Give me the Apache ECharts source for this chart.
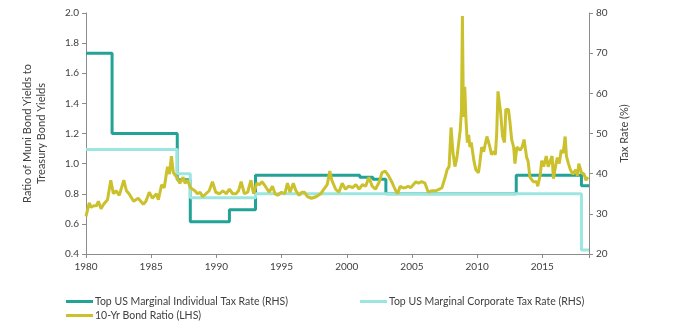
<!DOCTYPE html>
<html>
<head>
<meta charset="utf-8">
<script src="https://cdn.jsdelivr.net/npm/echarts@6/dist/echarts.min.js"></script>
<style>html,body{margin:0;padding:0;background:#fff;}#c{width:679px;height:329px;}</style>
</head>
<body>
<div id="c"></div>
<script>
// Top US marginal individual tax rate (%), change points
var indivYears = [1980, 1982, 1987, 1988, 1991, 1993, 2001, 2002, 2003, 2013, 2018, 2018.58];
var indivRates = [70, 50, 38.5, 28, 31, 39.6, 39.1, 38.6, 35, 39.6, 37, 37];
// Top US marginal corporate tax rate (%), change points
var corpYears = [1980, 1987, 1988, 1993, 2018, 2018.58];
var corpRates = [46, 40, 34, 35, 21, 21];
// 10-Yr muni / treasury yield ratio
var ratioYears = [1980.0,1980.25,1980.4,1980.6,1980.8,1980.95,1981.15,1981.35,1981.5,1981.65,1981.9,1982.1,1982.3,1982.55,1982.9,1983.1,1983.3,1983.45,1983.65,1984.0,1984.2,1984.4,1984.6,1984.85,1985.1,1985.4,1985.55,1985.8,1986.0,1986.25,1986.4,1986.55,1986.7,1986.95,1987.2,1987.45,1987.6,1987.8,1988.0,1988.15,1988.35,1988.55,1988.75,1988.95,1989.2,1989.45,1989.7,1989.95,1990.25,1990.5,1990.75,1991.0,1991.25,1991.5,1991.7,1991.9,1992.15,1992.4,1992.65,1992.85,1993.1,1993.3,1993.5,1993.75,1994.05,1994.3,1994.5,1994.7,1995.0,1995.25,1995.45,1995.65,1995.9,1996.1,1996.35,1996.55,1996.75,1997.0,1997.3,1997.65,1998.0,1998.25,1998.5,1998.7,1998.85,1999.15,1999.4,1999.65,1999.9,2000.15,2000.45,2000.7,2000.95,2001.2,2001.45,2001.7,2001.95,2002.2,2002.5,2002.7,2002.95,2003.2,2003.45,2003.7,2003.9,2004.1,2004.3,2004.5,2004.7,2004.9,2005.1,2005.3,2005.5,2005.75,2006.0,2006.25,2006.5,2006.85,2007.1,2007.3,2007.55,2007.7,2007.85,2008.0,2008.15,2008.3,2008.45,2008.6,2008.7,2008.8,2008.87,2008.95,2009.05,2009.15,2009.25,2009.35,2009.45,2009.55,2009.75,2009.9,2010.1,2010.2,2010.35,2010.5,2010.75,2010.95,2011.1,2011.25,2011.4,2011.5,2011.6,2011.8,2011.95,2012.1,2012.2,2012.4,2012.5,2012.65,2012.8,2012.9,2013.05,2013.3,2013.45,2013.6,2013.8,2013.9,2014.05,2014.3,2014.55,2014.65,2014.85,2014.95,2015.1,2015.3,2015.45,2015.6,2015.75,2015.85,2016.05,2016.15,2016.3,2016.45,2016.6,2016.75,2016.85,2017.0,2017.15,2017.35,2017.55,2017.7,2017.8,2018.0,2018.2,2018.35,2018.5];
var ratioValues = [0.65,0.74,0.71,0.72,0.72,0.75,0.70,0.73,0.72,0.76,0.89,0.80,0.82,0.79,0.89,0.82,0.80,0.81,0.75,0.77,0.75,0.73,0.75,0.81,0.77,0.80,0.76,0.86,0.84,0.98,0.93,1.05,0.94,0.91,0.87,0.91,0.87,0.89,0.84,0.83,0.82,0.80,0.81,0.78,0.80,0.82,0.88,0.81,0.80,0.82,0.80,0.83,0.80,0.80,0.82,0.88,0.80,0.81,0.89,0.80,0.87,0.86,0.88,0.85,0.81,0.85,0.80,0.79,0.81,0.80,0.87,0.81,0.87,0.82,0.79,0.81,0.81,0.78,0.77,0.78,0.80,0.83,0.86,0.95,0.89,0.83,0.81,0.87,0.83,0.85,0.84,0.86,0.83,0.86,0.85,0.91,0.85,0.83,0.88,0.94,0.95,0.92,0.88,0.83,0.80,0.85,0.84,0.84,0.85,0.84,0.86,0.88,0.87,0.88,0.87,0.81,0.82,0.82,0.83,0.84,0.91,0.96,0.98,1.24,1.07,0.98,1.04,1.04,1.22,1.36,1.98,1.31,1.51,1.28,1.14,1.19,1.11,1.14,1.02,0.96,0.94,1.00,1.11,1.08,1.18,1.12,1.06,1.08,1.06,1.20,1.48,1.34,1.18,1.14,1.36,1.36,1.29,1.16,1.11,1.00,1.11,1.09,1.11,1.16,1.04,1.02,0.91,0.88,0.88,0.85,0.93,1.02,0.98,1.05,0.98,0.98,1.05,0.90,1.00,1.04,1.00,1.09,1.07,1.18,1.05,1.00,0.96,0.93,0.96,0.92,1.00,0.94,0.93,0.89,0.91];
var xTicks = [1980, 1985, 1990, 1995, 2000, 2005, 2010, 2015];

var names = ['Top US Marginal Individual Tax Rate (RHS)', 'Top US Marginal Corporate Tax Rate (RHS)', '10-Yr Bond Ratio (LHS)'];
var colors = ['#23A396', '#9DE6E0', '#CBC12D'];
function zip(a, b) { return a.map(function (v, i) { return [v, b[i]]; }); }

var FONT = 'Lato';
var axisCol = '#8C8C8C';
var txtCol = '#404040';

var chart = echarts.init(document.getElementById('c'), null, {renderer: 'canvas'});
function legendAt(name, left, top) {
  return {
    data: [name], left: left, top: top, icon: 'rect', itemWidth: 27, itemHeight: 3, itemGap: 0,
    padding: 0, textStyle: {fontFamily: FONT, fontSize: 10.5, color: txtCol, padding: [0, 0, 0, -3]}
  };
}
chart.setOption({
  animation: false,
  color: colors,
  grid: {left: 86, right: 90, top: 13, bottom: 75},
  legend: [legendAt(names[0], 66, 296), legendAt(names[1], 360, 296), legendAt(names[2], 66, 310)],
  xAxis: {
    type: 'value', min: 1980, max: 2018.58, interval: 5,
    splitLine: {show: false},
    axisLine: {lineStyle: {color: axisCol, width: 1}},
    axisTick: {show: true, length: 4, lineStyle: {color: axisCol}},
    axisLabel: {
      fontFamily: FONT, fontSize: 10, color: txtCol, margin: 8,
      formatter: function (v) { return xTicks.indexOf(v) >= 0 ? String(v) : ''; }
    }
  },
  yAxis: [{
    type: 'value', min: 0.4, max: 2.0, interval: 0.2, position: 'left',
    name: 'Ratio of Muni Bond Yields to\nTreasury Bond Yields', nameLocation: 'middle', nameGap: 38,
    nameTextStyle: {fontFamily: FONT, fontSize: 11, color: txtCol, lineHeight: 14},
    splitLine: {show: false},
    axisLine: {show: true, lineStyle: {color: axisCol}},
    axisTick: {show: true, length: 4, lineStyle: {color: axisCol}},
    axisLabel: {fontFamily: FONT, fontSize: 10, color: txtCol, margin: 7, formatter: function (v) { return v.toFixed(1); }}
  }, {
    type: 'value', min: 20, max: 80, interval: 10, position: 'right',
    name: 'Tax Rate (%)', nameLocation: 'middle', nameGap: 30,
    nameTextStyle: {fontFamily: FONT, fontSize: 11, color: txtCol},
    splitLine: {show: false},
    axisLine: {show: true, lineStyle: {color: axisCol}},
    axisTick: {show: true, length: 4, lineStyle: {color: axisCol}},
    axisLabel: {fontFamily: FONT, fontSize: 10, color: txtCol, margin: 7}
  }],
  series: [{
    name: names[0], type: 'line', yAxisIndex: 1, step: 'end', showSymbol: false, symbol: 'none',
    lineStyle: {width: 3, color: colors[0]}, data: zip(indivYears, indivRates)
  }, {
    name: names[1], type: 'line', yAxisIndex: 1, step: 'end', showSymbol: false, symbol: 'none',
    lineStyle: {width: 3, color: colors[1]}, data: zip(corpYears, corpRates)
  }, {
    name: names[2], type: 'line', yAxisIndex: 0, showSymbol: false, symbol: 'none',
    lineStyle: {width: 3, color: colors[2]}, data: zip(ratioYears, ratioValues)
  }]
});
</script>
</body>
</html>
